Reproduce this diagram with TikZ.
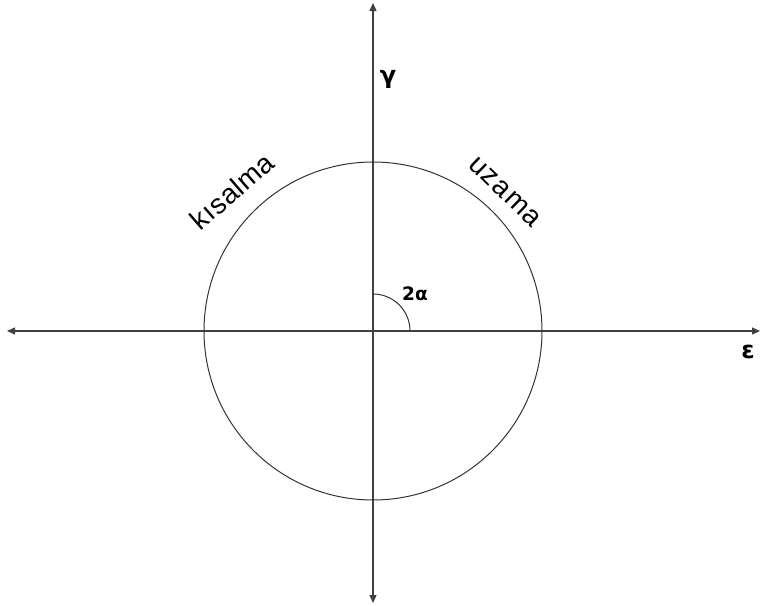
\documentclass[tikz,border=0pt]{standalone}
\usepackage{fontspec}
\setmainfont{Liberation Sans}
\newfontfamily\symfont{DejaVu Sans}
\usetikzlibrary{arrows.meta}
\begin{document}
\begin{tikzpicture}[x=1pt,y=-1pt,
  axis/.style={line width=1.2pt,draw=black!75,{Triangle[length=8pt,width=7pt]}-{Triangle[length=8pt,width=7pt]}},
  curve/.style={line width=1pt,draw=black!80},
  sym/.style={font=\symfont\fontsize{24}{28}\selectfont\bfseries,inner sep=0pt},
  lab/.style={font=\symfont\fontsize{18.5}{22}\selectfont\bfseries,inner sep=0pt},
  word/.style={font=\fontsize{28}{32}\selectfont,inner sep=0pt}]
\useasboundingbox (0,0) rectangle (760,605);
\coordinate (O) at (373,331);
\coordinate (top) at (373,3);
\coordinate (bot) at (373,603);
\coordinate (lft) at (7,331);
\coordinate (rgt) at (760,331);
\draw[axis] (bot) -- (top);
\draw[axis] (lft) -- (rgt);
\draw[curve] (O) circle[radius=169];
\draw[curve] (373,294) arc[start angle=270,end angle=360,radius=37];
\node[sym] (g) at (388,79) {γ};
\node[sym] (e) at (748,352) {ε};
\node[lab] (a) at (415,294) {2α};
\node[word,rotate=41] (k) at (232,191) {\addfontfeature{LetterSpace=2}kısalma};
\node[word,rotate=-44] (u) at (505,192) {\addfontfeature{LetterSpace=5}uzama};
\end{tikzpicture}
\end{document}
